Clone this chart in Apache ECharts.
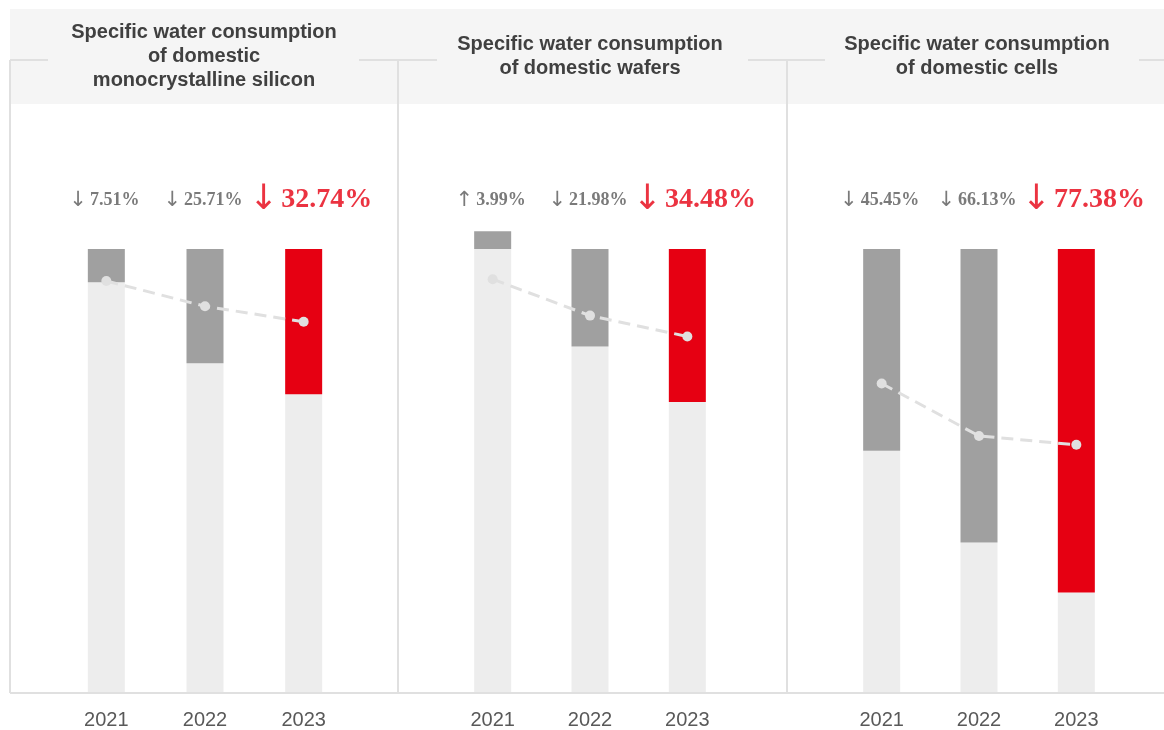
<!DOCTYPE html>
<html>
<head>
<meta charset="utf-8">
<script src="https://cdn.jsdelivr.net/npm/echarts@6/dist/echarts.min.js"></script>
<style>
  html, body { margin: 0; padding: 0; background: #fff; }
  #chart { width: 1164px; height: 730px; }
</style>
</head>
<body>
<div id="chart"></div>
<script>
const years = ['2021', '2022', '2023']
const titles = [
  'Specific water consumption\nof domestic\nmonocrystalline silicon',
  'Specific water consumption\nof domestic wafers',
  'Specific water consumption\nof domestic cells',
]
// change against the baseline year, %
const siliconChange = [-7.51, -25.71, -32.74]
const waferChange = [3.99, -21.98, -34.48]
const cellChange = [-45.45, -66.13, -77.38]
// dashed trend line
const siliconTrend = [92.8, 87.1, 83.6]
const waferTrend = [93.2, 85.0, 80.3]
const cellTrend = [69.7, 57.9, 55.9]

const RED = '#e60012'
const GRAY = '#a0a0a0'
const LIGHT = '#ededed'
const TEXT = '#595959'
const LINE = '#e0e0e0'

const panels = [
  { change: siliconChange, trend: siliconTrend, left: 57, width: 296, cx: 204 },
  { change: waferChange, trend: waferTrend, left: 444, width: 292, cx: 590 },
  { change: cellChange, trend: cellTrend, left: 833, width: 292, cx: 977 },
]

const LABEL_LEVEL = 111

const _label = function (v, i) {
  const arrow = v < 0 ? '↓' : '↑'
  const txt = Math.abs(v).toFixed(2) + '%'
  if (i === years.length - 1) return '{ra|' + arrow + '}{r|' + txt + '}'
  return '{ga|' + arrow + '}{g|' + txt + '}'
}

const grid = []
const xAxis = []
const yAxis = []
const series = []

panels.forEach((p, k) => {
  grid.push({ left: p.left, width: p.width, top: 27, bottom: 37 })
  xAxis.push({
    gridIndex: k,
    type: 'category',
    data: years,
    axisLine: { show: false },
    axisTick: { show: false },
    axisLabel: { color: TEXT, fontSize: 20, margin: 17, fontFamily: '"Liberation Sans", Arial, sans-serif' },
  })
  yAxis.push({ gridIndex: k, type: 'value', min: 0, max: 150, show: false })

  series.push({
    type: 'bar',
    xAxisIndex: k,
    yAxisIndex: k,
    stack: 'p' + k,
    barWidth: 37,
    silent: true,
    itemStyle: { color: LIGHT },
    data: p.change.map((v) => (v < 0 ? 100 + v : 100)),
  })
  series.push({
    type: 'bar',
    xAxisIndex: k,
    yAxisIndex: k,
    stack: 'p' + k,
    barWidth: 37,
    silent: true,
    data: p.change.map((v, i) => ({
      value: Math.abs(v),
      itemStyle: { color: i === years.length - 1 ? RED : GRAY },
    })),
  })
  series.push({
    type: 'line',
    xAxisIndex: k,
    yAxisIndex: k,
    silent: true,
    z: 5,
    symbol: 'circle',
    symbolSize: 10,
    itemStyle: { color: LINE },
    lineStyle: { color: LINE, width: 3, type: [12, 7] },
    data: p.trend,
  })
  series.push({
    type: 'scatter',
    xAxisIndex: k,
    yAxisIndex: k,
    silent: true,
    symbolSize: 1,
    itemStyle: { color: 'transparent' },
    label: {
      show: true,
      position: 'inside',
      formatter: (pr) => _label(p.change[pr.dataIndex], pr.dataIndex),
      rich: {
        ga: { fontSize: 21, color: TEXT, fontFamily: '"DejaVu Sans", sans-serif', padding: [0, 3, 0, 0] },
        g: { fontSize: 18, fontWeight: 'bold', color: TEXT, fontFamily: '"Liberation Serif", "Times New Roman", serif' },
        ra: { fontSize: 35, color: RED, fontFamily: '"DejaVu Sans", sans-serif', padding: [0, 3, 0, 0] },
        r: { fontSize: 28, fontWeight: 'bold', color: RED, fontFamily: '"Liberation Serif", "Times New Roman", serif' },
      },
    },
    data: years.map((y, i) => ({
      value: LABEL_LEVEL,
      label: { offset: [i === years.length - 1 ? 7 : -2, 0] },
    })),
  })
})

// panel frame, header band and titles
const graphic = [
  { type: 'rect', z: 0, shape: { x: 10, y: 9, width: 1154, height: 95 }, style: { fill: '#f5f5f5' } },
]
;[[10, 48], [359, 437], [748, 825], [1139, 1164]].forEach((s) => {
  graphic.push({ type: 'line', z: 1, shape: { x1: s[0], y1: 60, x2: s[1], y2: 60 }, style: { stroke: LINE, lineWidth: 2 } })
})
;[10, 398, 787].forEach((x) => {
  graphic.push({ type: 'line', z: 1, shape: { x1: x, y1: 60, x2: x, y2: 693 }, style: { stroke: LINE, lineWidth: 2 } })
})
graphic.push({ type: 'line', z: 10, shape: { x1: 10, y1: 693, x2: 1164, y2: 693 }, style: { stroke: LINE, lineWidth: 2 } })
panels.forEach((p, k) => {
  graphic.push({
    type: 'text',
    z: 2,
    x: p.cx,
    y: 56,
    style: {
      text: titles[k],
      fill: '#404040',
      font: 'bold 20px "Liberation Sans", Arial, sans-serif',
      lineHeight: 24,
      textAlign: 'center',
      textVerticalAlign: 'middle',
    },
  })
})

const c = echarts.init(document.getElementById('chart'))
c.setOption({
  animation: false,
  backgroundColor: '#fff',
  grid: grid,
  xAxis: xAxis,
  yAxis: yAxis,
  series: series,
  graphic: graphic,
})
</script>
</body>
</html>
